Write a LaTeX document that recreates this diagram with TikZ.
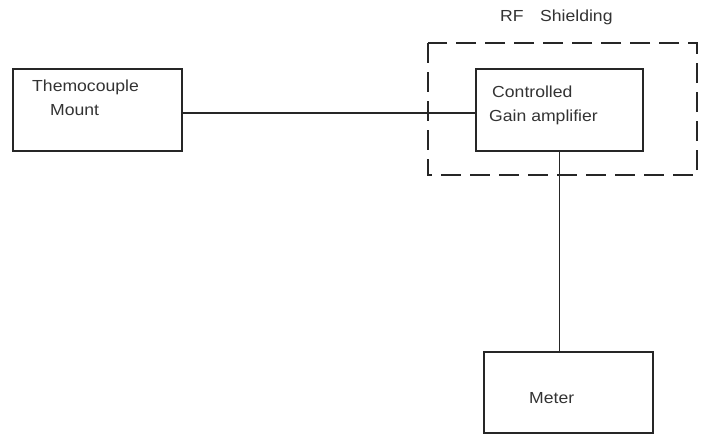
\documentclass[tikz,border=0pt]{standalone}
\usepackage{fontspec}
\setmainfont{Liberation Sans}
\begin{document}
\begin{tikzpicture}[x=1pt,y=-1pt,
  blk/.style={draw=black!85,line width=1.2pt,inner sep=0pt},
  lbl/.style={font=\fontsize{16}{18}\selectfont,text=black!80,inner sep=0pt,anchor=base west,xscale=1.1},
  wire/.style={draw=black!85,line width=1.4pt},
  shield/.style={draw=black!85,line width=1.3pt,dash pattern=on 20pt off 9pt}]
\useasboundingbox (0,0) rectangle (709,436);
% boxes
\node[blk,minimum width=169pt,minimum height=82pt] (tc) at (97.5,110) {};
\node[blk,minimum width=167pt,minimum height=82pt] (amp) at (559.5,110) {};
\node[blk,minimum width=169pt,minimum height=81pt] (meter) at (568.5,392.5) {};
\draw[shield] (428,43) rectangle (697,175);
% labels
\node[lbl] (t1) at (32,92) {Themocouple};
\node[lbl] (t2) at (50,115) {Mount};
\node[lbl] (a1) at (492,97) {Controlled};
\node[lbl] (a2) at (489,121) {Gain amplifier};
\node[lbl] (rf) at (500,22) {RF\hspace{15pt}Shielding};
\node[lbl] (m1) at (529,403) {Meter};
% connectors
\coordinate (c1) at ([yshift=-3pt]tc.east);
\coordinate (c2) at ([yshift=-3pt]amp.west);
\draw[wire] (c1) -- (c2);
\draw[wire] (amp.south) -- (amp.south |- meter.north);
\end{tikzpicture}
\end{document}
